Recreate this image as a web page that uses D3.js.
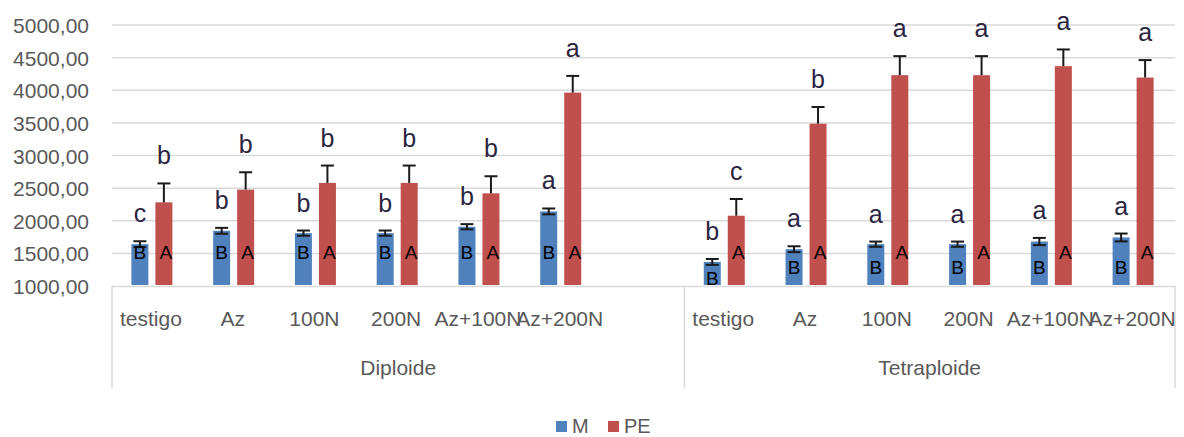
<!DOCTYPE html>
<html><head><meta charset="utf-8">
<script src="https://cdn.jsdelivr.net/npm/d3@7"></script>
<style>
html,body{margin:0;padding:0;background:#fff;}
svg{display:block;}
text{font-family:"Liberation Sans",Arial,sans-serif;}
</style></head>
<body>
<svg id="chart" width="1184" height="437"></svg>
<script>
// ---- data ----
const groups = ["Diploide", "Tetraploide"];
const treatments = ["testigo", "Az", "100N", "200N", "Az+100N", "Az+200N"];
const seriesNames = ["M", "PE"];
const yTicks = [1000, 1500, 2000, 2500, 3000, 3500, 4000, 4500, 5000];

const mDiploide = [1641, 1846, 1810, 1810, 1908, 2143];
const mTetraploide = [1369, 1564, 1641, 1641, 1682, 1744];
const mErrDiploide = [45, 45, 40, 40, 40, 45];
const mErrTetraploide = [45, 45, 40, 40, 55, 60];

const peDiploide = [2282, 2477, 2580, 2580, 2420, 3964];
const peTetraploide = [2077, 3487, 4231, 4231, 4369, 4195];
const peErrDiploide = [290, 266, 266, 266, 262, 256];
const peErrTetraploide = [256, 256, 292, 292, 256, 267];

const mLetterDiploide = ["c", "b", "b", "b", "b", "a"];
const mLetterTetraploide = ["b", "a", "a", "a", "a", "a"];
const peLetterDiploide = ["b", "b", "b", "b", "b", "a"];
const peLetterTetraploide = ["c", "b", "a", "a", "a", "a"];
const mInside = "B";
const peInside = "A";

// ---- build rows ----
const rows = [];
groups.forEach((g, gi) => {
  treatments.forEach((t, ti) => {
    rows.push({
      key: g + "|" + t, group: g, gi, treatment: t,
      M: gi === 0 ? mDiploide[ti] : mTetraploide[ti],
      Merr: gi === 0 ? mErrDiploide[ti] : mErrTetraploide[ti],
      PE: gi === 0 ? peDiploide[ti] : peTetraploide[ti],
      PEerr: gi === 0 ? peErrDiploide[ti] : peErrTetraploide[ti],
      Mlet: gi === 0 ? mLetterDiploide[ti] : mLetterTetraploide[ti],
      PElet: gi === 0 ? peLetterDiploide[ti] : peLetterTetraploide[ti]
    });
  });
});
// category domain with an empty slot closing the first group (as in the original)
const domain = [];
groups.forEach((g, gi) => {
  treatments.forEach(t => domain.push(g + "|" + t));
  if (gi === 0) domain.push(g + "|__blank");
});

const colors = { M: "#4f81bd", PE: "#c0504d" };
const textGray = "#595959";
const gridColor = "#d9d9d9";

const svg = d3.select("#chart");
const plotLeft = 112, plotRight = 1175, plotTop = 25, plotBottom = 286;

const x = d3.scaleBand().domain(domain).range([plotLeft, plotRight]).paddingInner(0).paddingOuter(0);
const y = d3.scaleLinear().domain([1000, 5000]).range([plotBottom, plotTop]);

const barW = 17, gap = 7;
const offset = { M: -(gap / 2 + barW / 2) - 1, PE: gap / 2 + barW / 2 - 1 };

// gridlines
svg.append("g").selectAll("line").data(yTicks.filter(v => v > 1000)).join("line")
  .attr("x1", plotLeft).attr("x2", plotRight)
  .attr("y1", d => y(d)).attr("y2", d => y(d))
  .attr("stroke", gridColor).attr("stroke-width", 1.5);

// y axis labels
const yAxis = d3.axisLeft(y).tickValues(yTicks)
  .tickFormat(d => d3.format(".2f")(d).replace(".", ","))
  .tickSize(0).tickPadding(0);
const ya = svg.append("g").attr("transform", `translate(${89},0)`).call(yAxis);
ya.select(".domain").remove();
ya.selectAll("text").attr("fill", textGray).style("font-size", "21px")
  .style("font-family", '"Liberation Sans",Arial,sans-serif').attr("dy", "0.36em");

// bottom axis line
svg.append("line").attr("x1", plotLeft).attr("x2", plotRight).attr("y1", plotBottom + 0.5).attr("y2", plotBottom + 0.5)
  .attr("stroke", gridColor).attr("stroke-width", 1.5);

// group dividers
const groupEdges = [x(domain[0]), x(groups[1] + "|" + treatments[0]), x(domain[domain.length - 1]) + x.bandwidth()];
svg.append("g").selectAll("line").data(groupEdges).join("line")
  .attr("x1", d => d).attr("x2", d => d).attr("y1", plotBottom).attr("y2", 388)
  .attr("stroke", gridColor).attr("stroke-width", 1.5);

// category labels
svg.append("g").selectAll("text").data(rows).join("text")
  .attr("x", d => x(d.key) + x.bandwidth() / 2 - 2)
  .attr("y", 326)
  .attr("text-anchor", "middle").attr("fill", textGray).style("font-size", "21px")
  .text(d => d.treatment);

// group labels
groups.forEach((g, gi) => {
  const x0 = groupEdges[gi], x1 = groupEdges[gi + 1];
  svg.append("text").attr("x", (x0 + x1) / 2).attr("y", 375)
    .attr("text-anchor", "middle").attr("fill", textGray).style("font-size", "21px").text(g);
});

// bars
seriesNames.forEach(s => {
  svg.append("g").selectAll("rect").data(rows).join("rect")
    .attr("x", d => x(d.key) + x.bandwidth() / 2 + offset[s] - barW / 2)
    .attr("y", d => y(d[s]))
    .attr("width", barW)
    .attr("height", d => y(1000) - y(d[s]) - 1)
    .attr("fill", colors[s]);
});

// error bars
const capW = 13;
const eb = svg.append("g").attr("stroke", "#1a1a1a").attr("stroke-width", 2).attr("fill", "none");
rows.forEach(d => {
  const cxM = x(d.key) + x.bandwidth() / 2 + offset.M;
  const hi = y(d.M + d.Merr), lo = y(d.M - d.Merr);
  eb.append("line").attr("x1", cxM).attr("x2", cxM).attr("y1", hi).attr("y2", lo);
  eb.append("line").attr("x1", cxM - capW / 2).attr("x2", cxM + capW / 2).attr("y1", hi).attr("y2", hi);
  eb.append("line").attr("x1", cxM - capW / 2).attr("x2", cxM + capW / 2).attr("y1", lo).attr("y2", lo);
  const cxP = x(d.key) + x.bandwidth() / 2 + offset.PE;
  const hp = y(d.PE + d.PEerr), bp = y(d.PE);
  eb.append("line").attr("x1", cxP).attr("x2", cxP).attr("y1", hp).attr("y2", bp);
  eb.append("line").attr("x1", cxP - capW / 2).attr("x2", cxP + capW / 2).attr("y1", hp).attr("y2", hp);
});

// significance letters above bars
const letterColor = "#2a2440";
rows.forEach(d => {
  const cxM = x(d.key) + x.bandwidth() / 2 + offset.M;
  const cxP = x(d.key) + x.bandwidth() / 2 + offset.PE;
  svg.append("text").attr("x", cxM).attr("y", y(d.M + d.Merr) - 19)
    .attr("text-anchor", "middle").attr("fill", letterColor).style("font-size", "25px").text(d.Mlet);
  svg.append("text").attr("x", cxP).attr("y", y(d.PE + d.PEerr) - 19)
    .attr("text-anchor", "middle").attr("fill", letterColor).style("font-size", "25px").text(d.PElet);
});

// letters inside bars
rows.forEach(d => {
  const cxM = x(d.key) + x.bandwidth() / 2 + offset.M;
  const cxP = x(d.key) + x.bandwidth() / 2 + offset.PE;
  const mH = y(1000) - y(d.M);
  let mBase;
  if (d.gi === 0) mBase = y(1000) - 27;
  else mBase = mH < 30 ? y(1000) - 1 : y(1000) - 12;
  svg.append("text").attr("x", cxM).attr("y", mBase)
    .attr("text-anchor", "middle").attr("fill", "#000").style("font-size", "19px").text(mInside);
  svg.append("text").attr("x", cxP + 2).attr("y", y(1000) - 27)
    .attr("text-anchor", "middle").attr("fill", "#000").style("font-size", "19px").text(peInside);
});

// legend
const legend = svg.append("g");
const legendItems = [{ s: "M", x: 556 }, { s: "PE", x: 608 }];
legendItems.forEach(it => {
  legend.append("rect").attr("x", it.x).attr("y", 421).attr("width", 11).attr("height", 11).attr("fill", colors[it.s]);
  legend.append("text").attr("x", it.x + 16).attr("y", 433).attr("fill", textGray)
    .style("font-size", "20px").text(it.s);
});
</script>
</body></html>
